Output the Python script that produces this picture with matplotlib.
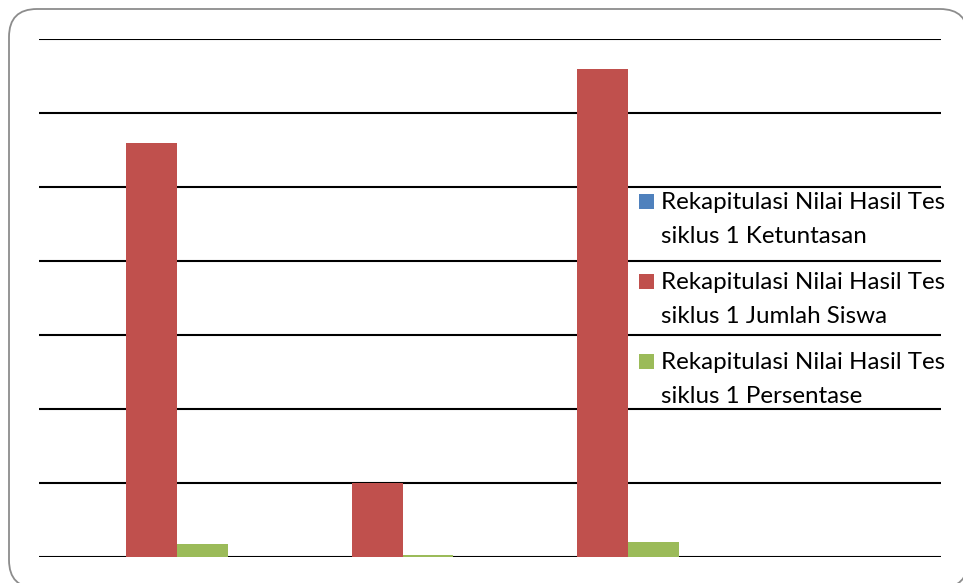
import matplotlib.pyplot as plt
import numpy as np
from matplotlib.patches import FancyBboxPatch, Rectangle

plt.rcParams['font.family'] = ['Lato', 'DejaVu Sans']

# data
categories = ['1', '2', '3', '4']
ketuntasan = [0, 0, 0, 0]
jumlah_siswa = [28, 5, 33, 0]
persentase = [0.85, 0.15, 1.0, 0]
labels = ['Rekapitulasi Nilai Hasil Tes\nsiklus 1 Ketuntasan',
          'Rekapitulasi Nilai Hasil Tes\nsiklus 1 Jumlah Siswa',
          'Rekapitulasi Nilai Hasil Tes\nsiklus 1 Persentase']
colors = ['#4f81bd', '#c0504d', '#9bbb59']

W, H = 963, 583
fig = plt.figure(figsize=(W / 100, H / 100), dpi=100)

# rounded frame (right and bottom edges run off the image), in inches
frame = FancyBboxPatch((0.09, (H - 588) / 100), (968 - 9) / 100, (588 - 9) / 100,
                       boxstyle='round,pad=0,rounding_size=0.28',
                       transform=fig.dpi_scale_trans, facecolor='white',
                       edgecolor='#8c8c8c', linewidth=1.3, zorder=-5)
fig.patches.append(frame)

ax = fig.add_axes([39 / W, 1 - 557 / H, (941 - 39) / W, (557 - 39) / H])
ax.set_facecolor('none')

x = np.arange(len(categories))
w = 0.224
series = [ketuntasan, jumlah_siswa, persentase]
for i, (vals, c) in enumerate(zip(series, colors)):
    ax.bar(x + (i - 1) * w, vals, w, color=c, zorder=3, linewidth=0)

ax.set_xlim(-0.5, 3.5)
ax.set_ylim(0, 35)
ax.set_yticks(np.arange(0, 36, 5))
ax.yaxis.grid(True, color='black', linewidth=1.5, zorder=1)
ax.set_axisbelow(True)
for s in ax.spines.values():
    s.set_visible(False)
ax.tick_params(left=False, bottom=False, labelleft=False, labelbottom=False)

# legend: square marker next to first line of each two-line label
first_baseline = 209
entry_pitch = 80
line_pitch = 34
for i, (lab, c) in enumerate(zip(labels, colors)):
    yb = first_baseline + i * entry_pitch
    fig.patches.append(Rectangle((639 / W, 1 - yb / H), 15 / W, 15 / H,
                                 transform=fig.transFigure, facecolor=c,
                                 edgecolor='none', zorder=5))
    for j, line in enumerate(lab.split('\n')):
        fig.text(661 / W, 1 - (yb + j * line_pitch) / H, line,
                 fontsize=17.4, va='baseline', ha='left', color='black', zorder=5)

fig.savefig('out.png', dpi=100)
